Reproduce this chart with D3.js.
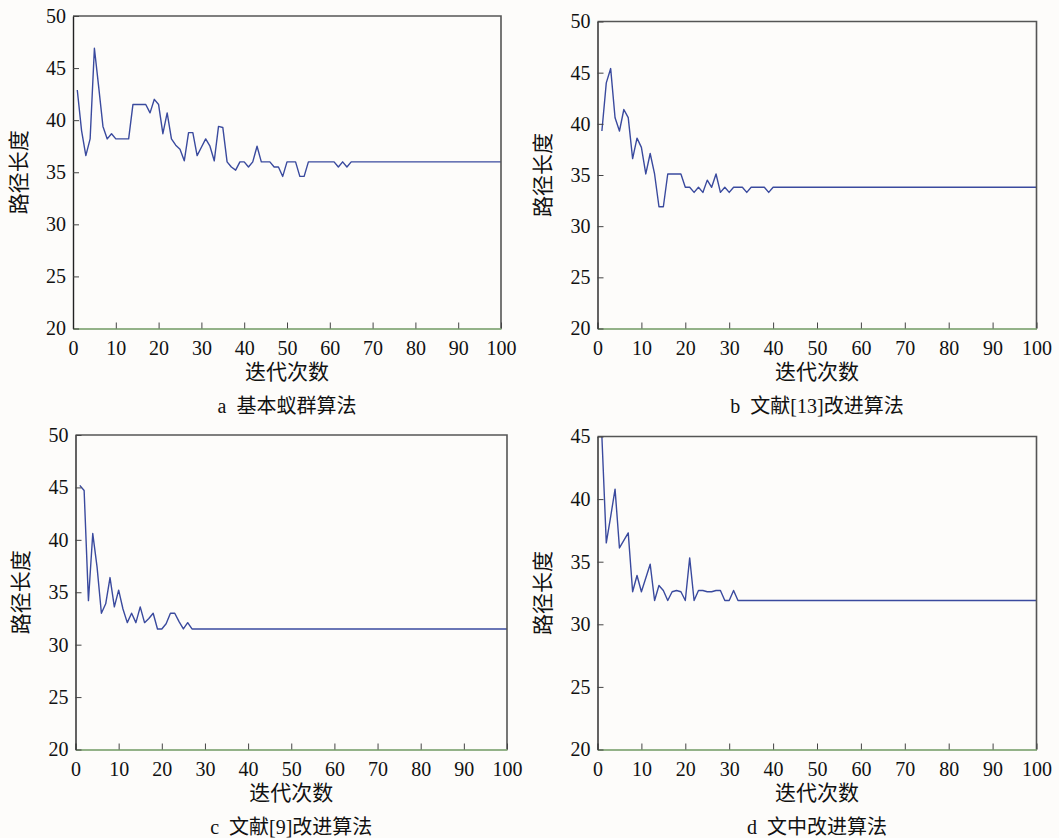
<!DOCTYPE html>
<html lang="zh">
<head>
<meta charset="utf-8">
<title>路径长度收敛曲线</title>
<script src="https://d3js.org/d3.v7.min.js"></script>
<style>
  body { margin: 0; background: #fdfcfa; }
  svg { display: block; }
  .tick text { font-family: "Liberation Serif", "Times New Roman", serif; font-size: 20px; fill: #111; }
  .lbl { font-family: "Liberation Serif", "Noto Sans CJK SC", serif; font-size: 20px; fill: #111; }
</style>
</head>
<body>
<svg width="1059" height="838"></svg>
<script>
// iteration values (x = 1..100)
const seriesA = [
  42.9, 39.0, 36.6, 38.2, 46.9, 43.2, 39.4, 38.2, 38.7, 38.2,
  38.2, 38.2, 38.2, 41.5, 41.5, 41.5, 41.5, 40.7, 42.0, 41.5,
  38.7, 40.7, 38.2, 37.6, 37.2, 36.1, 38.8, 38.8, 36.6, 37.4,
  38.2, 37.5, 36.1, 39.4, 39.3, 36.0, 35.5, 35.2, 36.0, 36.0,
  35.5, 36.0, 37.5, 36.0, 36.0, 36.0, 35.5, 35.5, 34.6, 36.0,
  36.0, 36.0, 34.6, 34.6, 36.0, 36.0, 36.0, 36.0, 36.0, 36.0,
  36.0, 35.5, 36.0, 35.5, 36.0, 36.0, 36.0, 36.0, 36.0, 36.0,
  36.0, 36.0, 36.0, 36.0, 36.0, 36.0, 36.0, 36.0, 36.0, 36.0,
  36.0, 36.0, 36.0, 36.0, 36.0, 36.0, 36.0, 36.0, 36.0, 36.0,
  36.0, 36.0, 36.0, 36.0, 36.0, 36.0, 36.0, 36.0, 36.0, 36.0
];
const seriesB = [
  39.3, 44.0, 45.4, 40.6, 39.3, 41.4, 40.6, 36.6, 38.6, 37.7,
  35.1, 37.1, 35.1, 31.9, 31.9, 35.1, 35.1, 35.1, 35.1, 33.8,
  33.8, 33.3, 33.8, 33.3, 34.5, 33.8, 35.1, 33.3, 33.8, 33.3,
  33.8, 33.8, 33.8, 33.3, 33.8, 33.8, 33.8, 33.8, 33.3, 33.8,
  33.8, 33.8, 33.8, 33.8, 33.8, 33.8, 33.8, 33.8, 33.8, 33.8,
  33.8, 33.8, 33.8, 33.8, 33.8, 33.8, 33.8, 33.8, 33.8, 33.8,
  33.8, 33.8, 33.8, 33.8, 33.8, 33.8, 33.8, 33.8, 33.8, 33.8,
  33.8, 33.8, 33.8, 33.8, 33.8, 33.8, 33.8, 33.8, 33.8, 33.8,
  33.8, 33.8, 33.8, 33.8, 33.8, 33.8, 33.8, 33.8, 33.8, 33.8,
  33.8, 33.8, 33.8, 33.8, 33.8, 33.8, 33.8, 33.8, 33.8, 33.8
];
const seriesC = [
  45.2, 44.7, 34.2, 40.6, 37.4, 33.0, 33.9, 36.4, 33.6, 35.2,
  33.4, 32.1, 33.0, 32.1, 33.6, 32.1, 32.5, 33.0, 31.5, 31.5,
  32.0, 33.0, 33.0, 32.2, 31.5, 32.1, 31.5, 31.5, 31.5, 31.5,
  31.5, 31.5, 31.5, 31.5, 31.5, 31.5, 31.5, 31.5, 31.5, 31.5,
  31.5, 31.5, 31.5, 31.5, 31.5, 31.5, 31.5, 31.5, 31.5, 31.5,
  31.5, 31.5, 31.5, 31.5, 31.5, 31.5, 31.5, 31.5, 31.5, 31.5,
  31.5, 31.5, 31.5, 31.5, 31.5, 31.5, 31.5, 31.5, 31.5, 31.5,
  31.5, 31.5, 31.5, 31.5, 31.5, 31.5, 31.5, 31.5, 31.5, 31.5,
  31.5, 31.5, 31.5, 31.5, 31.5, 31.5, 31.5, 31.5, 31.5, 31.5,
  31.5, 31.5, 31.5, 31.5, 31.5, 31.5, 31.5, 31.5, 31.5, 31.5
];
const seriesD = [
  45.0, 36.5, 38.6, 40.8, 36.1, 36.7, 37.3, 32.6, 33.9, 32.6,
  33.7, 34.8, 31.9, 33.1, 32.7, 31.9, 32.6, 32.7, 32.6, 31.9,
  35.3, 31.9, 32.7, 32.7, 32.6, 32.6, 32.7, 32.7, 31.9, 31.9,
  32.7, 31.9, 31.9, 31.9, 31.9, 31.9, 31.9, 31.9, 31.9, 31.9,
  31.9, 31.9, 31.9, 31.9, 31.9, 31.9, 31.9, 31.9, 31.9, 31.9,
  31.9, 31.9, 31.9, 31.9, 31.9, 31.9, 31.9, 31.9, 31.9, 31.9,
  31.9, 31.9, 31.9, 31.9, 31.9, 31.9, 31.9, 31.9, 31.9, 31.9,
  31.9, 31.9, 31.9, 31.9, 31.9, 31.9, 31.9, 31.9, 31.9, 31.9,
  31.9, 31.9, 31.9, 31.9, 31.9, 31.9, 31.9, 31.9, 31.9, 31.9,
  31.9, 31.9, 31.9, 31.9, 31.9, 31.9, 31.9, 31.9, 31.9, 31.9
];

const xTicks = [0, 10, 20, 30, 40, 50, 60, 70, 80, 90, 100];
const yTicks50 = [20, 25, 30, 35, 40, 45, 50];
const yTicks45 = [20, 25, 30, 35, 40, 45];
const capLetters = ["a", "b", "c", "d"];
const captions = ["基本蚁群算法", "文献[13]改进算法", "文献[9]改进算法", "文中改进算法"];
const xTitle = "迭代次数";
const yTitle = "路径长度";

// panel frames (pixels)
const panels = [
  { values: seriesA, ymax: 50, yt: yTicks50, k: 0, x0: 73,    x1: 501,    y0: 16,    y1: 328.5 },
  { values: seriesB, ymax: 50, yt: yTicks50, k: 1, x0: 597.5, x1: 1036.5, y0: 21.5,  y1: 328.5 },
  { values: seriesC, ymax: 50, yt: yTicks50, k: 2, x0: 75.5,  x1: 507,    y0: 435,   y1: 749.5 },
  { values: seriesD, ymax: 45, yt: yTicks45, k: 3, x0: 597.5, x1: 1036.5, y0: 436.5, y1: 749.5 }
];

const svg = d3.select("svg");
svg.append("rect").attr("width", 1059).attr("height", 838).attr("fill", "#fdfcfa");

panels.forEach(p => {
  const x = d3.scaleLinear().domain([0, 100]).range([p.x0, p.x1]);
  const y = d3.scaleLinear().domain([20, p.ymax]).range([p.y1, p.y0]);
  const g = svg.append("g");

  // data line, clipped to the frame
  const clipId = "clip" + p.k;
  g.append("clipPath").attr("id", clipId).append("rect")
    .attr("x", p.x0).attr("y", p.y0 - 1).attr("width", p.x1 - p.x0).attr("height", p.y1 - p.y0 + 1);

  const line = d3.line().x((d, i) => x(i + 1)).y(d => y(d));
  g.append("path")
    .datum(p.values)
    .attr("clip-path", "url(#" + clipId + ")")
    .attr("fill", "none")
    .attr("stroke", "#3a4a9e")
    .attr("stroke-width", 1.4)
    .attr("stroke-linejoin", "round")
    .attr("d", line);

  // box: top and right
  g.append("path")
    .attr("d", `M${p.x0},${p.y0}H${p.x1}V${p.y1}`)
    .attr("fill", "none").attr("stroke", "#555").attr("stroke-width", 1.6);

  // axes, ticks pointing inward
  const ax = g.append("g")
    .attr("transform", `translate(0,${p.y1})`)
    .call(d3.axisBottom(x).tickValues(xTicks).tickSizeInner(-6).tickSizeOuter(0).tickPadding(12));
  ax.select(".domain").attr("stroke", "#6f9a62").attr("stroke-width", 1.6);
  ax.selectAll(".tick line").attr("stroke", "#444");

  const ay = g.append("g")
    .attr("transform", `translate(${p.x0},0)`)
    .call(d3.axisLeft(y).tickValues(p.yt).tickSizeInner(-6).tickSizeOuter(0).tickPadding(7));
  ay.select(".domain").attr("stroke", "#222").attr("stroke-width", 1.4);
  ay.selectAll(".tick line").attr("stroke", "#444");

  ax.selectAll("text").attr("font-family", null).attr("font-size", null);
  ay.selectAll("text").attr("font-family", null).attr("font-size", null);

  const cx = (p.x0 + p.x1) / 2;
  g.append("text").attr("class", "lbl")
    .attr("x", cx).attr("y", p.y1 + 46)
    .attr("text-anchor", "middle").attr("dominant-baseline", "middle")
    .style("font-size", "21px")
    .text(xTitle);

  const cap = g.append("text").attr("class", "lbl")
    .attr("x", cx).attr("y", p.y1 + 79)
    .attr("text-anchor", "middle").attr("dominant-baseline", "middle");
  cap.append("tspan").text(capLetters[p.k]);
  cap.append("tspan").attr("dx", 10).text(captions[p.k]);

  const ly = (p.y0 + p.y1) / 2;
  g.append("text").attr("class", "lbl")
    .attr("transform", `translate(${p.x0 - 52},${ly}) rotate(-90)`)
    .attr("text-anchor", "middle").attr("dominant-baseline", "middle")
    .style("font-size", "21px")
    .text(yTitle);
});
</script>
</body>
</html>
